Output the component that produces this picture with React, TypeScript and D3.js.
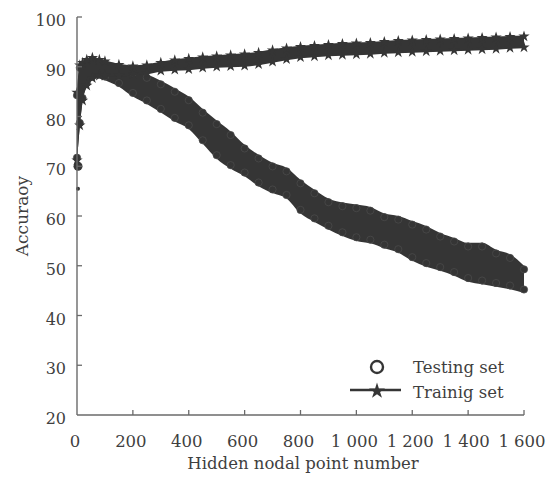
import React from "react";
import * as d3 from "d3";

// hidden nodal point numbers where the bands were read
const nodes = [0, 10, 20, 35, 55, 80, 100, 150, 200, 250, 300, 350, 400, 450, 500, 550, 600, 650, 700, 750, 800, 850, 900, 950, 1000, 1050, 1100, 1150, 1200, 1250, 1300, 1350, 1400, 1450, 1500, 1550, 1600];

// testing set: lower / upper edge of the cloud of points
const testingLow = [71, 78, 83, 86, 87.3, 87.7, 87.3, 86, 84, 82.5, 80.8, 79, 77.5, 74.5, 71.5, 69.5, 68, 66, 64.6, 63.5, 60.5, 58.8, 57.3, 56, 55, 54.5, 53.5, 52.6, 51, 49.8, 49, 48, 46.8, 46.3, 45.8, 45.3, 44.5];
const testingHigh = [85, 90.5, 91, 91.6, 92, 91.6, 91.2, 90.5, 89.5, 88.5, 87.2, 85.7, 84, 81.5, 79.2, 77, 74.3, 72.3, 70.7, 69.7, 67.3, 65.3, 63.5, 62.7, 62.3, 61.8, 60.5, 60, 59, 58, 56.6, 55.6, 54.6, 54.6, 53.2, 52.3, 50];

// training set
const trainingLow = [71, 78, 83, 86, 87.5, 88, 88, 88, 88.3, 88.5, 89, 89.2, 89.3, 89.6, 89.8, 89.9, 90, 90.3, 90.8, 91.3, 91.7, 91.9, 92.1, 92.2, 92.3, 92.4, 92.6, 92.7, 92.8, 92.9, 93, 93.1, 93.2, 93.3, 93.4, 93.6, 93.7];
const trainingHigh = [85, 90.5, 91, 91.6, 92, 91.6, 91.3, 90.6, 90.3, 90.5, 91, 91.5, 91.8, 92.1, 92.3, 92.5, 92.7, 93, 93.5, 93.9, 94.2, 94.4, 94.6, 94.8, 94.9, 95, 95.2, 95.4, 95.5, 95.6, 95.7, 95.8, 95.9, 96, 96.1, 96.2, 96.3];

// stray testing points on the y axis
const strayX = [0, 0];
const strayY = [70, 65.5];

const xTicks = [0, 200, 400, 600, 800, 1000, 1200, 1400, 1600];
const xTickLabels = ["0", "200", "400", "600", "800", "1 000", "1 200", "1 400", "1 600"];
const yTicks = [20, 30, 40, 50, 60, 70, 80, 90, 100];

const W = 549;
const H = 480;
const ink = "#353535";
const axisInk = "#6a6a6a";
const textInk = "#3f3f3f";
const font = "DejaVu Serif";

const App = () => {
  const x = d3.scaleLinear().domain([0, 1600]).range([77, 524]);
  const y = d3.scaleLinear().domain([20, 100]).range([415, 17]);

  const band = (lo: number[], hi: number[]) =>
    d3
      .area<number>()
      .x((d) => x(d))
      .y0((d, i) => y(lo[i]))
      .y1((d, i) => y(hi[i]))
      .curve(d3.curveMonotoneX)(nodes) || "";

  const r = 3.6;
  const star = d3.symbol().type(d3.symbolStar).size(40)() || "";
  const legendStar = d3.symbol().type(d3.symbolStar).size(80)() || "";

  return (
    <svg width={W} height={H} style={{ position: "absolute", left: 0, top: 0, background: "#fff" }}>
      {/* testing set cloud */}
      <path d={band(testingLow, testingHigh)} fill={ink} />
      {nodes.map((n, i) => (
        <g key={"t" + i}>
          <circle cx={x(n)} cy={y(testingLow[i]) - r} r={r} fill={ink} stroke="#4a4a4a" strokeWidth={0.8} />
          <circle cx={x(n)} cy={y(testingHigh[i]) + r} r={r} fill={ink} stroke="#4a4a4a" strokeWidth={0.8} />
        </g>
      ))}
      {strayX.map((s, i) => (
        <circle key={"s" + i} cx={x(s) + 1} cy={y(strayY[i])} r={i === 0 ? 4.5 : 2} fill={ink} />
      ))}

      {/* training set cloud */}
      <path d={band(trainingLow, trainingHigh)} fill={ink} />
      {nodes.map((n, i) => (
        <g key={"r" + i}>
          <path d={star} transform={`translate(${x(n)},${y(trainingLow[i]) - 1})`} fill={ink} />
          <path d={star} transform={`translate(${x(n)},${y(trainingHigh[i]) + 1})`} fill={ink} />
        </g>
      ))}

      {/* axes */}
      <line x1={x(0)} x2={x(0)} y1={y(100)} y2={y(20)} stroke={axisInk} strokeWidth={1.4} />
      <line x1={x(0)} x2={x(1600)} y1={y(20)} y2={y(20)} stroke={axisInk} strokeWidth={1.4} />
      {yTicks.slice(1).map((t) => (
        <line key={"yt" + t} x1={x(0)} x2={x(0) + 5} y1={y(t)} y2={y(t)} stroke={axisInk} strokeWidth={1.3} />
      ))}
      {xTicks.slice(1).map((t) => (
        <line key={"xt" + t} x1={x(t)} x2={x(t)} y1={y(20)} y2={y(20) - 5} stroke={axisInk} strokeWidth={1.3} />
      ))}
      {yTicks.map((t) => (
        <text key={"yl" + t} x={66} y={y(t) + 9} textAnchor="end" fontFamily={font} fontSize={16} fill={textInk}>
          {t}
        </text>
      ))}
      {xTicks.map((t, i) => (
        <text key={"xl" + t} x={x(t) - 2} y={447} textAnchor="middle" fontFamily={font} fontSize={16.5} fill={textInk}>
          {xTickLabels[i]}
        </text>
      ))}
      <text x={303} y={469} textAnchor="middle" fontFamily={font} fontSize={16.5} fill={textInk}>
        Hidden nodal point number
      </text>
      <text
        transform={`translate(28,${y(60)}) rotate(-90)`}
        textAnchor="middle"
        fontFamily={font}
        fontSize={17}
        fill={textInk}
      >
        Accuraoy
      </text>

      {/* legend */}
      <circle cx={377} cy={367} r={6} fill="none" stroke={ink} strokeWidth={2.4} />
      <text x={413} y={373} fontFamily={font} fontSize={16.5} fill={textInk}>
        Testing set
      </text>
      <line x1={350} x2={401} y1={390} y2={390} stroke={ink} strokeWidth={2.4} />
      <path d={legendStar} transform="translate(377,391)" fill={ink} />
      <text x={413} y={398} fontFamily={font} fontSize={16.5} fill={textInk}>
        Trainig set
      </text>
    </svg>
  );
};

export default App;
